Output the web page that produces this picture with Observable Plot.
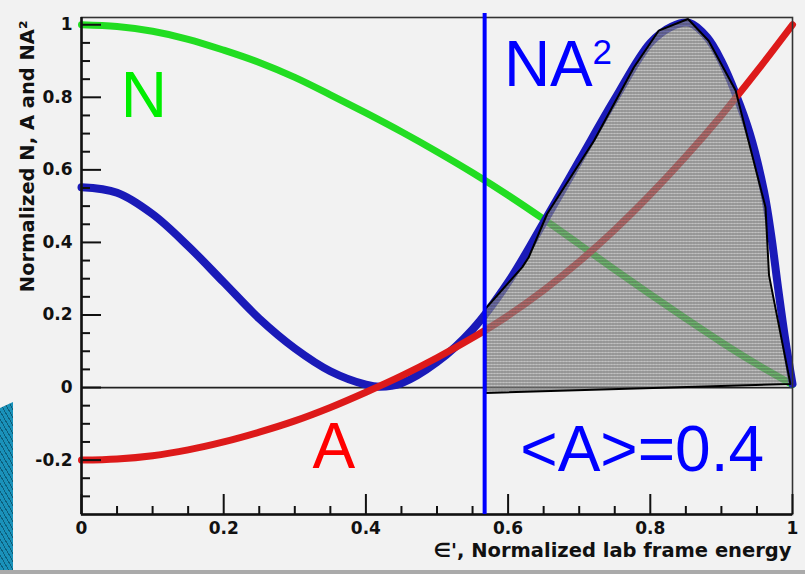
<!DOCTYPE html>
<html><head><meta charset="utf-8">
<script src="https://cdn.jsdelivr.net/npm/d3@7"></script>
<script src="https://cdn.jsdelivr.net/npm/@observablehq/plot@0.6"></script>
<style>
html,body{margin:0;padding:0;background:#f2f2f2;width:805px;height:574px;overflow:hidden;position:relative}
#chart{position:absolute;left:0;top:0}
.deco{position:absolute;left:0;top:402px;width:13px;height:168px;background:repeating-linear-gradient(60deg,#1a92ba 0 3px,#0d5f7c 3px 4px);clip-path:polygon(0 6px,100% 0,100% 100%,0 100%)}
.strip{position:absolute;left:0;top:570px;width:805px;height:4px;background:#aaaaaa}
</style></head><body>
<div id="chart"></div><div class="deco"></div><div class="strip"></div>
<script>
// ---- data ----
const eps   = [0,0.05,0.1,0.15,0.2,0.25,0.3,0.35,0.4,0.45,0.5,0.55,0.6,0.65,0.7,0.75,0.8,0.85,0.9,0.95,1.0];
const normN = [1.0,0.995,0.982,0.96,0.93,0.896,0.855,0.807,0.757,0.705,0.65,0.592,0.53,0.464,0.395,0.325,0.257,0.19,0.125,0.064,0.008];
const normA = [-0.2,-0.197,-0.188,-0.172,-0.15,-0.123,-0.092,-0.055,-0.013,0.032,0.082,0.137,0.198,0.268,0.347,0.435,0.532,0.637,0.75,0.872,1.0];
const epsNA2  = [0,0.05,0.1,0.15,0.2,0.25,0.3,0.35,0.4,0.42,0.45,0.5,0.55,0.6,0.65,0.7,0.75,0.8,0.83,0.855,0.88,0.9,0.92,0.94,0.96,0.97,0.98,0.99,1.0];
const normNA2 = [0.552,0.537,0.478,0.39,0.29,0.19,0.108,0.045,0.008,0.002,0.012,0.07,0.16,0.29,0.455,0.625,0.795,0.95,0.995,1.005,0.965,0.9,0.81,0.7,0.54,0.42,0.27,0.13,0.01];
const shadeEps = [0.568,0.568,0.62,0.629,0.655,0.721,0.777,0.812,0.853,0.882,0.92,0.962,0.967,0.997,0.568];
const shadeVal = [-0.015,0.217,0.332,0.359,0.479,0.681,0.883,0.984,1.016,0.956,0.819,0.497,0.309,0.01,-0.015];
const cutEps = 0.567;
const xDomain = [0,1];
const yDomain = [-0.35,1.02];
const xTicks = [0,0.2,0.4,0.6,0.8,1];
const xTickLabels = ["0","0.2","0.4","0.6","0.8","1"];
const xMinor = [0.05,0.1,0.15,0.25,0.3,0.35,0.45,0.5,0.55,0.65,0.7,0.75,0.85,0.9,0.95];
const yTicks = [-0.2,0,0.2,0.4,0.6,0.8,1];
const yTickLabels = ["-0.2","0","0.2","0.4","0.6","0.8","1"];
const yMinor = [-0.3,-0.25,-0.15,-0.1,-0.05,0.05,0.1,0.15,0.25,0.3,0.35,0.45,0.5,0.55,0.65,0.7,0.75,0.85,0.9,0.95];
const xLabel = "\u2208', Normalized lab frame energy";
const yLabel = "Normalized N, A and NA\u00b2";

const W = 805, H = 574, mL = 81, mR = 13, mT = 17, mB = 60;
const fw = W - mL - mR, fh = H - mT - mB;

const seriesN = eps.map((e,i)=>({e, v: normN[i]}));
const seriesA = eps.map((e,i)=>({e, v: normA[i]}));
const seriesNA2 = epsNA2.map((e,i)=>({e, v: normNA2[i]}));
const shade = shadeEps.map((e,i)=>({e, v: shadeVal[i]}));

const tickFont = {fontFamily:"DejaVu Sans", fontWeight:"bold", fontSize:17, fill:"#111"};
const bigFont = {fontFamily:"Liberation Sans", fontSize:64, lineAnchor:"bottom"};

const chart = Plot.plot({
  width: W, height: H,
  marginLeft: mL, marginRight: mR, marginTop: mT, marginBottom: mB,
  style: {background:"#f2f2f2", overflow:"visible"},
  x: {domain: xDomain, axis: null},
  y: {domain: yDomain, axis: null},
  marks: [
    Plot.ruleY([0], {stroke:"#222", strokeWidth:1.8}),
    Plot.line(seriesN, {x:"e", y:"v", stroke:"#22dd22", strokeWidth:7, curve:"catmull-rom"}),
    Plot.line(seriesNA2, {x:"e", y:"v", stroke:"#1a1ab8", strokeWidth:8, curve:"catmull-rom"}),
    Plot.line(seriesA, {x:"e", y:"v", stroke:"#dd1a1a", strokeWidth:7, curve:"catmull-rom"}),
    Plot.line(shade, {x:"e", y:"v", fill:"url(#hatch)", stroke:"#000", strokeWidth:2, strokeLinejoin:"round"}),
    Plot.frame({stroke:"#333", strokeWidth:1.6}),
    Plot.ruleX([xDomain[0]], {stroke:"#111", strokeWidth:2.5}),
    Plot.ruleY([yDomain[0]], {stroke:"#111", strokeWidth:2.5}),
    Plot.tickY(yTicks, {y:d=>d, stroke:"#111", strokeWidth:2, insetRight: fw-20}),
    Plot.tickY(yMinor, {y:d=>d, stroke:"#111", strokeWidth:2, insetRight: fw-9}),
    Plot.tickX(xTicks, {x:d=>d, stroke:"#111", strokeWidth:2, insetTop: fh-20}),
    Plot.tickX(xMinor, {x:d=>d, stroke:"#111", strokeWidth:2, insetTop: fh-8}),
    Plot.text(yTicks, {x: xDomain[0], y:d=>d, text:(d,i)=>yTickLabels[i], textAnchor:"end", lineAnchor:"middle", dx:-9, ...tickFont}),
    Plot.text(xTicks, {x:d=>d, y: yDomain[0], text:(d,i)=>xTickLabels[i], textAnchor:"middle", lineAnchor:"top", dy:7, ...tickFont}),
    Plot.text([xLabel], {frameAnchor:"bottom-right", textAnchor:"end", lineAnchor:"bottom", dy:42, dx:-1, fontFamily:"DejaVu Sans", fontWeight:"bold", fontSize:19.5, fill:"#111"}),
    Plot.text([yLabel], {frameAnchor:"top-left", textAnchor:"end", lineAnchor:"bottom", rotate:-90, dx:-48, dy:3, fontFamily:"DejaVu Sans", fontWeight:"bold", fontSize:19.5, fill:"#111"}),
    Plot.ruleX([cutEps], {y1: 1.031, y2: yDomain[0], stroke:"#0000ff", strokeWidth:4}),
    Plot.text(["N"], {x:0.0876, y:0.745, fill:"#00ee00", textAnchor:"middle", ...bigFont}),
    Plot.text(["A"], {x:0.355, y:-0.223, fill:"#ff0000", textAnchor:"middle", ...bigFont}),
    Plot.text(["NA"], {x:0.6566, y:0.832, fill:"#0000ff", textAnchor:"middle", ...bigFont}),
    Plot.text(["2"], {x:0.7187, y:0.892, fill:"#0000ff", textAnchor:"start", fontFamily:"Liberation Sans", fontSize:35, lineAnchor:"bottom"}),
    Plot.text(["<A>=0.4"], {x:0.7886, y:-0.229, fill:"#0000ff", textAnchor:"middle", ...bigFont})
  ]
});
const ns = "http://www.w3.org/2000/svg";
const defs = document.createElementNS(ns, "defs");
defs.innerHTML = '<pattern id="hatch" width="3" height="3" patternUnits="userSpaceOnUse">' +
  '<rect x="0" y="0" width="3" height="2" fill="#a0a0a0" fill-opacity="0.6"/>' +
  '<rect x="0" y="2" width="3" height="1" fill="#555555" fill-opacity="0.8"/>' +
  '<rect x="0" y="0" width="1" height="3" fill="#777777" fill-opacity="0.25"/></pattern>';
chart.insertBefore(defs, chart.firstChild);
document.getElementById("chart").appendChild(chart);
</script>
</body></html>
